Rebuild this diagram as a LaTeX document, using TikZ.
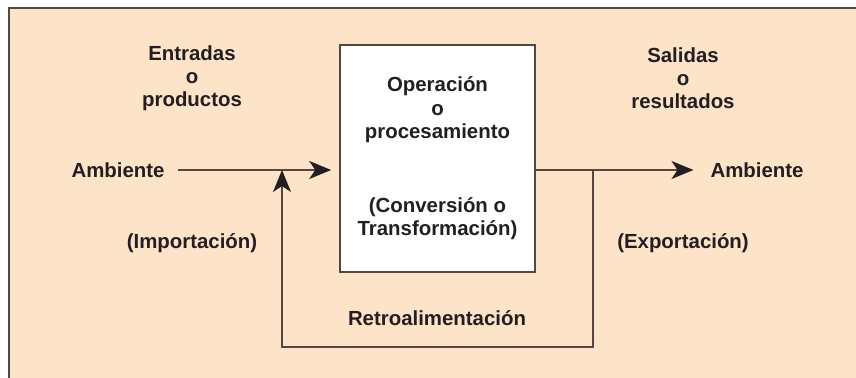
\documentclass[tikz,border=0pt]{standalone}
\usepackage{fontspec}
\setmainfont{Liberation Sans}
\usetikzlibrary{arrows.meta}

\definecolor{fondo}{HTML}{FDE3C8}
\definecolor{linea}{HTML}{55463F}
\definecolor{texto}{HTML}{231F20}

\begin{document}
\begin{tikzpicture}[x=0.5pt, y=-0.5pt,
        every node/.style={font=\bfseries\fontsize{10.2}{11.6}\selectfont, text=texto, align=center},
        flecha/.style={-{Stealth[length=11pt, width=9pt, inset=3pt, color=texto, fill=texto]}, draw=linea, line width=0.75pt}]
        \useasboundingbox (0, 0) rectangle (856, 378);

        % fondo y marco
        \fill[fondo] (9, 8) rectangle (856, 378);
        \draw[linea, line width=1pt] (9, 378) -- (9, 8) -- (856, 8);

        \node[draw=linea, line width=0.8pt, fill=white, minimum width=97.5pt, minimum height=113.5pt] (proc) at (437.5, 158.5)
            {Operación\\o\\procesamiento\\[25.5pt](Conversión o\\Transformación)};

        \node (entradas) at (192, 78) {Entradas\\o\\productos};
        \node (salidas) at (683, 78) {Salidas\\o\\resultados};

        \node (inL) at (118, 170) {Ambiente};
        \node (outR) at (757, 170) {Ambiente};

        \node (imp) at (192, 243) {(Importación)};
        \node (exp) at (683, 243) {(Exportación)};
        \node (retro) at (437, 318) {Retroalimentación};

        \coordinate (split) at (593, 170);
        \coordinate (join) at (282, 170);

        \draw[flecha, shorten <=3pt, shorten >=4pt] (inL) -- (inL -| proc.west);
        \draw[flecha, shorten >=5pt] (outR -| proc.east) -- (outR);
        \draw[flecha] (split) -- (593, 347) -| (join);
    \end{tikzpicture}
\end{document}
